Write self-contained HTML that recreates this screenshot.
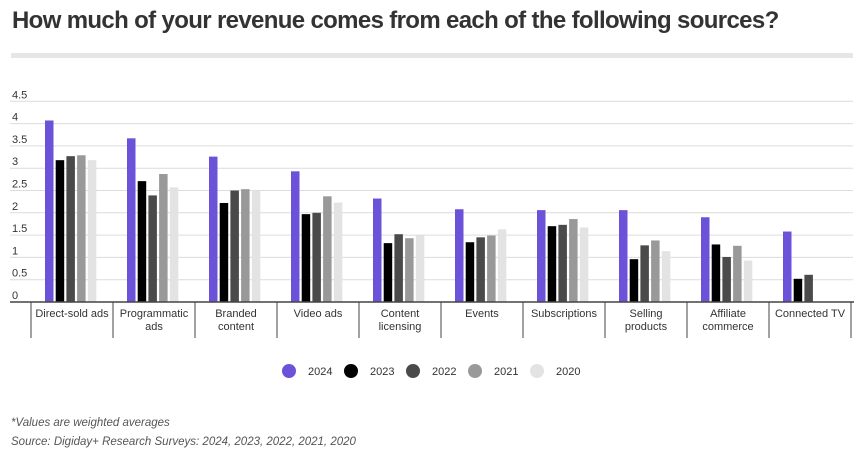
<!DOCTYPE html>
<html><head><meta charset="utf-8"><style>
body{margin:0;background:#fff;width:860px;height:467px;overflow:hidden;font-family:"Liberation Sans",sans-serif}
#title{position:absolute;left:12px;top:7px;font-size:24px;font-weight:bold;color:#333;letter-spacing:-0.65px;margin:0;white-space:nowrap}
#rule{position:absolute;left:11px;top:53px;width:842px;height:5px;background:#e6e6e6}
.note{position:absolute;left:11px;font-size:11.5px;font-style:italic;color:#555}
</style></head><body>
<h1 id="title">How much of your revenue comes from each of the following sources?</h1>
<div id="rule"></div>
<svg id="chart" width="860" height="467" style="position:absolute;left:0;top:0"></svg>
<div class="note" style="top:417px">*Values are weighted averages</div>
<div class="note" style="top:436px">Source: Digiday+ Research Surveys: 2024, 2023, 2022, 2021, 2020</div>
<script>
const categories=[["Direct-sold ads"],["Programmatic","ads"],["Branded","content"],["Video ads"],["Content","licensing"],["Events"],["Subscriptions"],["Selling","products"],["Affiliate","commerce"],["Connected TV"]];
const seriesNames=["2024","2023","2022","2021","2020"];
const s2024=[4.07,3.67,3.26,2.93,2.32,2.08,2.06,2.06,1.90,1.58];
const s2023=[3.18,2.71,2.22,1.97,1.32,1.34,1.70,0.96,1.29,0.52];
const s2022=[3.27,2.39,2.50,2.00,1.52,1.45,1.73,1.27,1.01,0.61];
const s2021=[3.29,2.87,2.53,2.37,1.43,1.49,1.86,1.38,1.26,null];
const s2020=[3.18,2.57,2.50,2.23,1.49,1.63,1.67,1.14,0.93,null];
const ticks=[0,0.5,1,1.5,2,2.5,3,3.5,4,4.5];
const colors=["#6b52d9","#000000","#4a4a4a","#999999","#e3e3e3"];
const series=[s2024,s2023,s2022,s2021,s2020];
const NS="http://www.w3.org/2000/svg",svg=document.getElementById('chart');
const y0=302,pxPerUnit=44.6,x0=31,catW=82;
const y=v=>y0-v*pxPerUnit;
function mk(t,a){const e=document.createElementNS(NS,t);for(const k in a)e.setAttribute(k,a[k]);svg.appendChild(e);return e;}
ticks.forEach(t=>{
 const g=mk('line',{x1:10,x2:853,y1:y(t),y2:y(t),stroke:'#dcdcdc','stroke-width':1});
 
 
 const l=mk('text',{x:12,y:y(t)-3,'font-size':11,fill:'#333'});l.textContent=t;
 
 
});
categories.forEach((c,i)=>{
 const cx=x0+i*catW;
 series.forEach((s,j)=>{
  const v=s[i]; if(v==null)return;
  const r=mk('rect',{x:cx+14+j*10.7,y:y(v),width:8.5,height:v*pxPerUnit,fill:colors[j]});
  
  
 });
 c.forEach((ln,k)=>{
  const t=mk('text',{x:cx+catW/2,y:317+k*13,'font-size':11,fill:'#333','text-anchor':'middle'});t.textContent=ln;
  
  
 });
});
for(let i=0;i<=categories.length;i++){
 const d=mk('line',{x1:x0+i*catW,x2:x0+i*catW,y1:302,y2:338,stroke:'#444','stroke-width':1});
 
 
}
const ax=mk('line',{x1:10,x2:854,y1:302,y2:302,stroke:'#444','stroke-width':1.5});


seriesNames.forEach((n,j)=>{
 const lx=289+j*62;
 const c=mk('circle',{cx:lx,cy:371,r:7,fill:colors[j]});
 
 
 const t=mk('text',{x:lx+19,y:375,'font-size':11,fill:'#333'});t.textContent=n;
 
 
});
</script>
</body></html>
